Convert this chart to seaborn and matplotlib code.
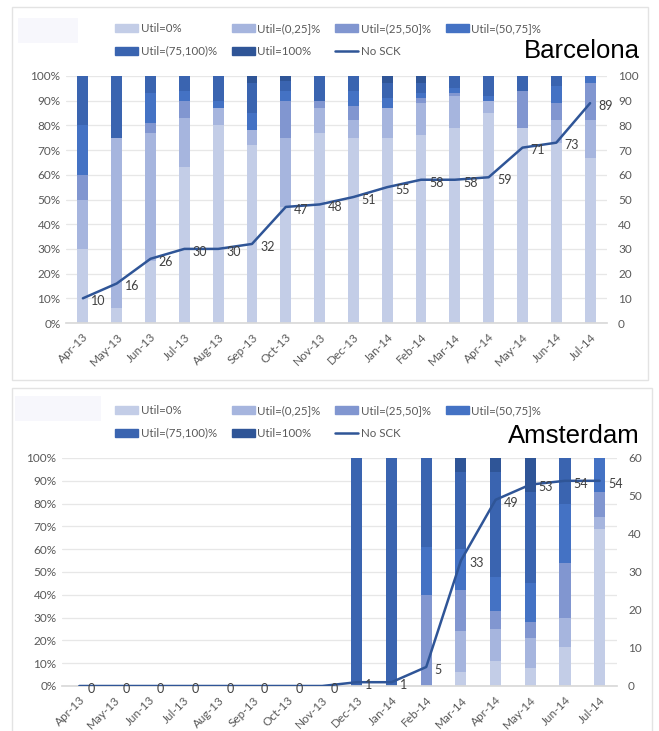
import numpy as np
import pandas as pd
import matplotlib
matplotlib.use("Agg")
import matplotlib.pyplot as plt
from matplotlib.patches import Rectangle
from matplotlib.lines import Line2D
import seaborn as sns

# ---------------- data ----------------
months = ["Apr-13", "May-13", "Jun-13", "Jul-13", "Aug-13", "Sep-13", "Oct-13", "Nov-13",
          "Dec-13", "Jan-14", "Feb-14", "Mar-14", "Apr-14", "May-14", "Jun-14", "Jul-14"]
series_names = ["Util=0%", "Util=(0,25]%", "Util=(25,50]%", "Util=(50,75]%",
                "Util=(75,100)%", "Util=100%"]

# Barcelona shares (%)
bcn_u0    = [30, 6, 25, 63, 80, 72, 47, 77, 75, 75, 76, 79, 85, 79, 73, 67]
bcn_u25   = [20, 69, 52, 20, 7, 6, 28, 10, 7, 12, 13, 13, 5, 0, 9, 15]
bcn_u50   = [10, 0, 4, 7, 0, 0, 15, 3, 6, 0, 2, 1, 0, 15, 7, 15]
bcn_u75   = [20, 0, 12, 4, 3, 7, 4, 0, 6, 4, 2, 2, 2, 0, 7, 3]
bcn_u100o = [20, 25, 7, 6, 10, 12, 4, 10, 6, 6, 4, 5, 8, 6, 4, 0]
bcn_u100  = [0, 0, 0, 0, 0, 3, 2, 0, 0, 3, 3, 0, 0, 0, 0, 0]
bcn_sck   = [10, 16, 26, 30, 30, 32, 47, 48, 51, 55, 58, 58, 59, 71, 73, 89]

# Amsterdam shares (%)
ams_u0    = [0, 0, 0, 0, 0, 0, 0, 0, 0, 0, 0, 6, 11, 8, 17, 69]
ams_u25   = [0, 0, 0, 0, 0, 0, 0, 0, 0, 0, 0, 18, 14, 13, 13, 5]
ams_u50   = [0, 0, 0, 0, 0, 0, 0, 0, 0, 0, 40, 18, 8, 7, 24, 11]
ams_u75   = [0, 0, 0, 0, 0, 0, 0, 0, 0, 0, 21, 18, 15, 17, 26, 15]
ams_u100o = [0, 0, 0, 0, 0, 0, 0, 0, 100, 100, 39, 34, 46, 40, 20, 0]
ams_u100  = [0, 0, 0, 0, 0, 0, 0, 0, 0, 0, 0, 6, 6, 15, 0, 0]
ams_sck   = [0, 0, 0, 0, 0, 0, 0, 0, 1, 1, 5, 33, 49, 53, 54, 54]

colors = ["#c3cde7", "#a6b5de", "#8196d0", "#4472c4", "#3a64b0", "#2f5597"]
line_color = "#2f5597"
text_gray = "#595959"
grid_gray = "#d9d9d9"

sns.set_theme(style="white")
plt.rcParams["font.family"] = ["Lato", "DejaVu Sans"]

W, H = 659, 731
fig = plt.figure(figsize=(W / 100, H / 100), dpi=100)


def fx(px):
    return px / W


def fy(py):
    return 1 - py / H


# panel borders and blank boxes
fig.patches.append(Rectangle((fx(12), fy(380)), fx(648 - 12), (380 - 7) / H,
                             transform=fig.transFigure, fill=False,
                             edgecolor="#e3e3e3", lw=1.0))
fig.patches.append(Rectangle((fx(12), fy(740)), fx(652 - 12), (740 - 388) / H,
                             transform=fig.transFigure, fill=False,
                             edgecolor="#e3e3e3", lw=1.0))
fig.patches.append(Rectangle((fx(18), fy(43)), fx(60), 25 / H,
                             transform=fig.transFigure, color="#f7f7fc", lw=0))
fig.patches.append(Rectangle((fx(15), fy(421)), fx(86), 25 / H,
                             transform=fig.transFigure, color="#f7f7fc", lw=0))


def draw_panel(rect, shares, sck, ymax2, city, city_y, legend_y):
    ax = fig.add_axes(rect)
    x = np.arange(len(months))
    bottom = np.zeros(len(months))
    handles = []
    for name, vals, col in zip(series_names, shares, colors):
        vals = np.array(vals, dtype=float)
        ax.bar(x, vals, bottom=bottom, width=0.32, color=col, label=name,
               linewidth=0, zorder=2)
        handles.append(Rectangle((0, 0), 1, 1, color=col))
        bottom += vals
    ax.set_xlim(-0.5, len(months) - 0.5)
    ax.set_ylim(0, 100)
    ax.set_yticks(np.arange(0, 101, 10))
    ax.set_yticklabels([f"{v}%" for v in range(0, 101, 10)])
    ax.yaxis.grid(True, color="#e7e7e7", lw=0.9, zorder=0)
    ax.set_axisbelow(True)
    ax.set_xticks(x)
    ax.set_xticklabels(months, rotation=45, ha="right", rotation_mode="anchor")
    ax.set_xticks(np.arange(-0.5, len(months), 1), minor=True)
    ax.tick_params(axis="x", which="major", length=0, pad=6, labelsize=8.5, labelcolor=text_gray)
    ax.tick_params(axis="x", which="minor", length=4, color=grid_gray, width=0.8)
    ax.tick_params(axis="y", length=0, labelsize=8.5, labelcolor=text_gray, pad=4)
    for s in ["top", "right", "left"]:
        ax.spines[s].set_visible(False)
    ax.spines["bottom"].set_color(grid_gray)

    ax2 = ax.twinx()
    df = pd.DataFrame({"x": x, "sck": sck})
    sns.lineplot(data=df, x="x", y="sck", ax=ax2, color=line_color, lw=1.8, zorder=5)
    ax2.set_ylim(0, ymax2)
    ax2.set_yticks(np.arange(0, ymax2 + 1, 10))
    ax2.tick_params(axis="y", length=0, labelsize=8.5, labelcolor=text_gray, pad=8)
    ax2.set_xlabel("")
    ax2.set_ylabel("")
    ax.set_xlabel("")
    ax.set_ylabel("")
    for s in ["top", "right", "left", "bottom"]:
        ax2.spines[s].set_visible(False)
    ax2.set_xlim(-0.5, len(months) - 0.5)
    for xi, v in zip(x, sck):
        ax2.annotate(str(v), (xi, v), xytext=(6, -2), textcoords="offset points",
                     ha="left", va="center", fontsize=9, color="#404040", zorder=6)

    handles.append(Line2D([0], [0], color=line_color, lw=1.8))
    labels = series_names + ["No SCK"]
    order = [0, 4, 1, 5, 2, 6, 3]
    fig.legend([handles[i] for i in order], [labels[i] for i in order],
               ncol=4, loc="center", bbox_to_anchor=(fx(328), fy(legend_y)),
               frameon=False, fontsize=8.3, labelcolor=text_gray,
               handlelength=2.0, handleheight=0.7, handletextpad=0.2,
               columnspacing=1.3, labelspacing=1.0)
    fig.text(fx(640), fy(city_y), city, ha="right", va="center",
             fontsize=18.5, color="black", family="Liberation Sans")
    return ax, ax2


draw_panel([fx(66), fy(323), fx(607 - 66), (323 - 76) / H],
           [bcn_u0, bcn_u25, bcn_u50, bcn_u75, bcn_u100o, bcn_u100],
           bcn_sck, 100, "Barcelona", 51, 40)
draw_panel([fx(62), fy(686), fx(617 - 62), (686 - 458) / H],
           [ams_u0, ams_u25, ams_u50, ams_u75, ams_u100o, ams_u100],
           ams_sck, 60, "Amsterdam", 436, 422)

fig.savefig("out.png", dpi=100)
